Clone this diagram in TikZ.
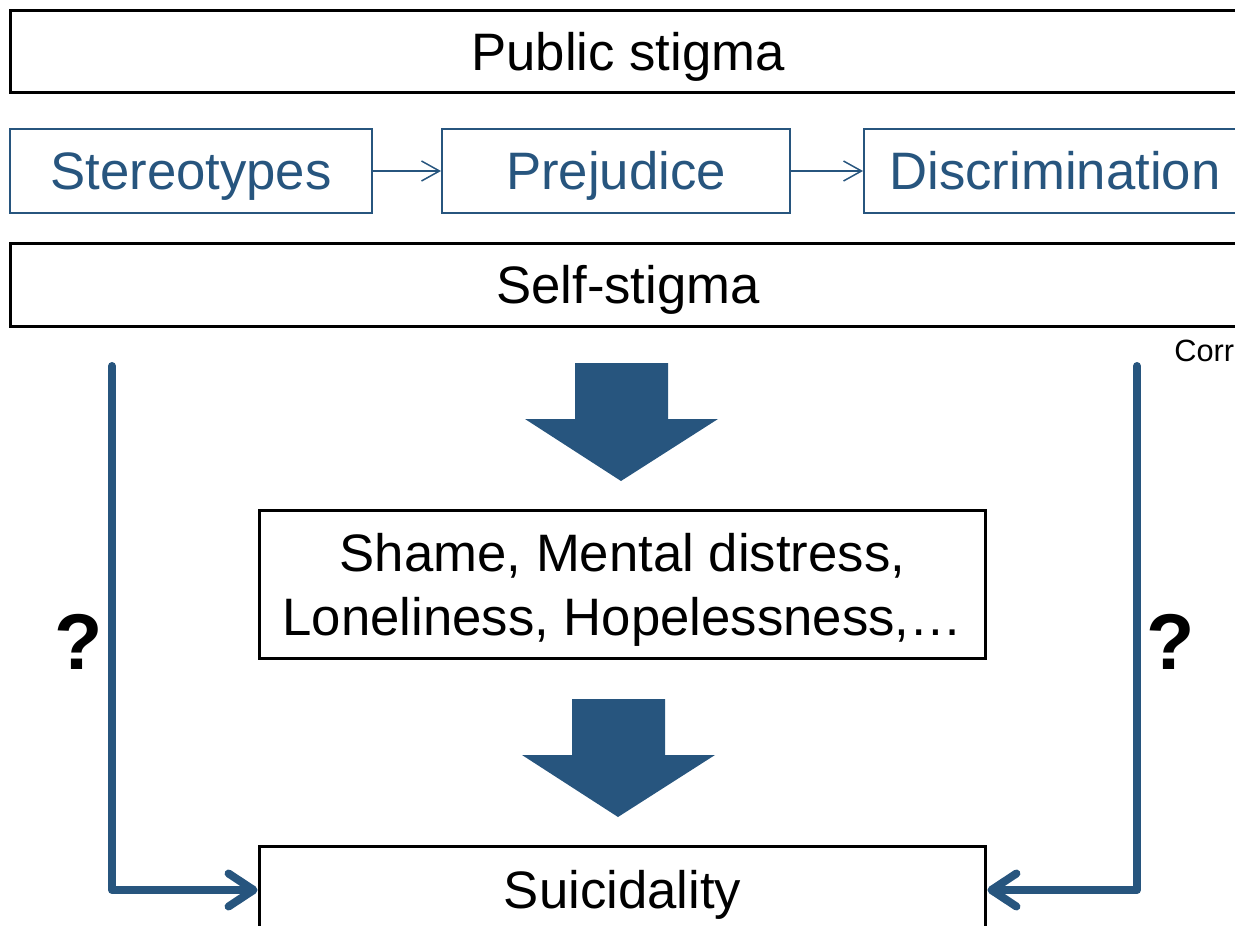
\documentclass[tikz,border=0pt]{standalone}
\usepackage{fontspec}
\setmainfont{Liberation Sans}
\usepackage{tikz}
\usetikzlibrary{arrows.meta}
\definecolor{stigmablue}{RGB}{39,85,126}

\begin{document}
\begin{tikzpicture}[x=0.02cm, y=-0.02cm,
frame/.style={draw, line width=0.06cm, inner sep=0pt, align=center, font=\fontsize{30}{36}\selectfont},
oneline/.style={text height=27.5pt, text depth=6pt},
bluebox/.style={draw=stigmablue, text=stigmablue, line width=0.04cm, inner sep=0pt, minimum height=1.68cm, oneline, font=\fontsize{30}{36}\selectfont},
thinlink/.style={draw=stigmablue, line width=0.03cm, -{Straight Barb[length=0.36cm, width=0.4cm]}},
link/.style={draw=stigmablue, line width=0.16cm, line cap=round, line join=round, -{Straight Barb[length=0.5cm, width=0.66cm, round]}},
downarrow/.style={fill=stigmablue},
query/.style={font=\fontsize{45}{54}\selectfont\bfseries}]
\clip (0,0) rectangle (1235,926);
\node[frame, oneline, minimum width=24.72cm, minimum height=1.66cm] (public) at (628,51.5) {Public stigma};
\node[bluebox, minimum width=7.24cm] (stereo) at (191,171) {Stereotypes};
\node[bluebox, minimum width=6.96cm] (prej) at (616,171) {Prejudice};
\node[bluebox, minimum width=7.64cm] (discr) at (1055,171) {Discrimination};
\node[frame, oneline, minimum width=24.72cm, minimum height=1.68cm] (self) at (628,285) {Self-stigma};
\node[frame, text depth=0pt, minimum width=14.54cm, minimum height=2.98cm] (shame) at (622.5,584.5) {Shame, Mental distress,\\Loneliness, Hopelessness,\dots};
\node[frame, oneline, minimum width=14.54cm, minimum height=1.76cm] (suic) at (622.5,890) {Suicidality};
\node[anchor=base west, inner sep=0pt, font=\fontsize{17.5}{21}\selectfont] (corr) at (1174,361) {Corr};
\node[query] (qleft) at (79,642) {?};
\node[query] (qright) at (1171,642) {?};
\coordinate (lstart) at (112,366);
\coordinate (rstart) at (1137,366);

\draw[thinlink] (stereo) -- (prej);
\draw[thinlink] (prej) -- (discr);
\fill[downarrow] (575,363) -- (668,363) -- (668,419) -- (718,419) -- (621,481) -- (525,419) -- (575,419) -- cycle;
\fill[downarrow] (572,699) -- (665,699) -- (665,755) -- (715,755) -- (618,817) -- (522,755) -- (572,755) -- cycle;
\draw[link] (lstart) |- (suic.west);
\draw[link] (rstart) |- (suic.east);
\end{tikzpicture}
\end{document}
